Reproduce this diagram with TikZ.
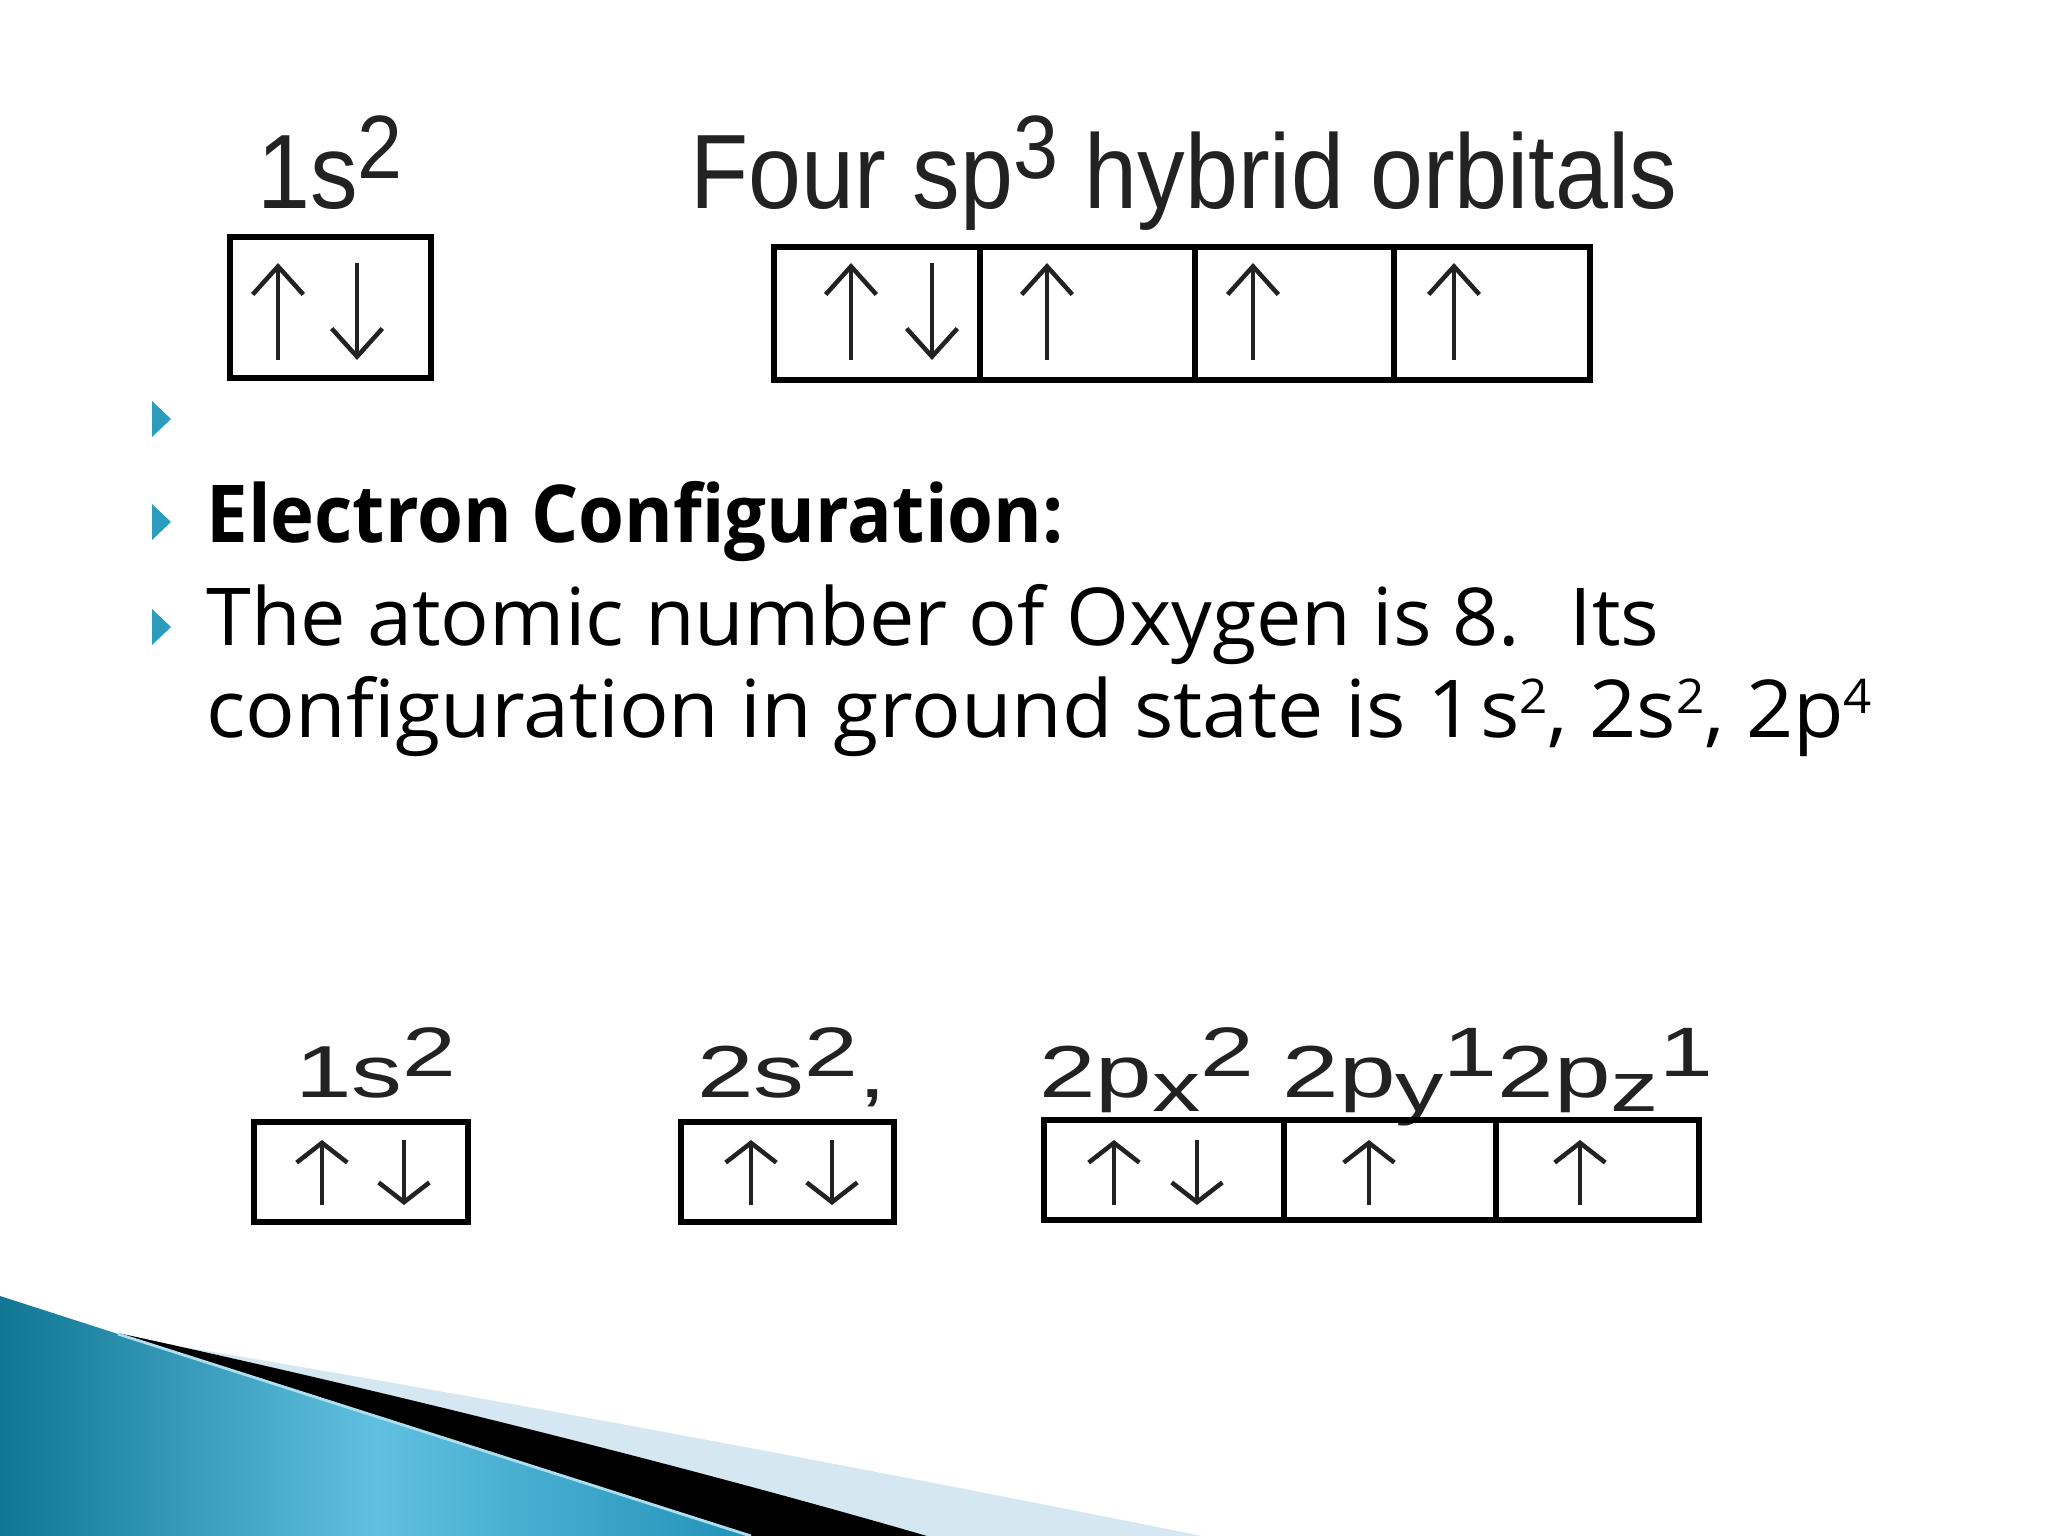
\documentclass[tikz,border=0pt]{standalone}
\usepackage{fontspec}
\usepackage{graphicx}
\usetikzlibrary{arrows.meta}
\setmainfont{Open Sans}
\newfontfamily\orbfont{Liberation Sans}
\definecolor{bullet}{RGB}{42,157,190}
\definecolor{tealdark}{RGB}{16,118,148}
\definecolor{teallight}{RGB}{96,192,224}
\definecolor{tealmid}{RGB}{34,146,184}
\definecolor{paleblue}{RGB}{213,231,240}
\definecolor{orbgray}{RGB}{34,34,34}
\newcommand{\orbup}[2][0.85]{\raisebox{0.28em}{\scalebox{#1}{#2}}}
\newcommand{\orbdn}[2][0.95]{\raisebox{-0.2em}{\scalebox{#1}{#2}}}
\newcommand{\esup}[1]{\raisebox{0.3em}{\fontsize{17}{17}\selectfont #1}}
\tikzset{
  toplbl/.style={font=\orbfont\fontsize{37.6}{40}\selectfont, text=orbgray, anchor=base, xscale=0.9, inner sep=0},
  botlbl/.style={font=\orbfont\fontsize{26.2}{28}\selectfont, text=orbgray, anchor=base, xscale=1.38, inner sep=0},
  orbbox/.style={draw=black, line width=2.1pt},
  spin/.style={draw=orbgray, line width=1.4pt, -{Straight Barb[length=10pt, width=18pt, line width=1.6pt]}},
  spinsmall/.style={draw=orbgray, line width=1.4pt, -{Straight Barb[length=7pt, width=18pt, line width=1.6pt]}},
  bodytext/.style={font=\fontsize{28.4}{32.6}\selectfont, anchor=base west, inner sep=0, xscale=1.013},
  titletext/.style={font=\bfseries\fontsize{28.4}{32.6}\selectfont, anchor=base west, inner sep=0, xscale=0.93},
}
\begin{document}
\begin{tikzpicture}[x=0.0125cm, y=-0.0125cm]
\useasboundingbox (0,0) rectangle (2048,1536);
\fill[white] (0,0) rectangle (2048,1536);

% corner wave
\fill[paleblue] (140,1340) .. controls (400,1382) and (800,1455) .. (1202,1536) -- (927,1536) .. controls (700,1470) and (400,1394) .. (118,1333) -- cycle;
\fill[black] (118,1333) .. controls (400,1394) and (700,1470) .. (927,1536) -- (751,1536) -- (118,1334) -- cycle;
\shade[left color=tealdark, right color=tealmid, middle color=teallight] (0,1296) -- (118,1334) -- (751,1536) -- (0,1536) -- cycle;
\draw[teallight!50!white, line width=1pt] (118,1334) -- (751,1536);

% bullets
\foreach \y in {419,522,627}
  \fill[bullet] (152,\y-18) -- (171,\y) -- (152,\y+18) -- cycle;

\node[titletext] (title) at (206,542) {Electron Configuration:};
\node[bodytext] (line2) at (206,645) {The atomic number of Oxygen is 8.~ Its};
\node[bodytext, xscale=1.02] (line3) at (206,737) {configuration in ground state is 1\kern2pt s\esup{2}, 2s\esup{2}, 2p\esup{4}};

% hybrid orbitals
\node[toplbl] (s1top) at (330,208) {1s\orbup{2}};
\node[toplbl] (sp3lbl) at (1184,208) {Four sp\orbup{3} hybrid orbitals};
\draw[orbbox] (230,237) rectangle (431,378);
\draw[orbbox] (774,247) rectangle (1590,380);
\foreach \x in {980,1195,1394}
  \draw[orbbox] (\x,247) -- (\x,380);
\foreach \x in {278,851,1047,1253,1454}
  \draw[spin] (\x,360) -- (\x,263);
\foreach \x in {357,932}
  \draw[spin] (\x,263) -- (\x,360);

% ground state
\node[botlbl] (s1bot) at (376,1097) {1s\orbup[0.95]{2}};
\node[botlbl] (s2bot) at (792,1097) {2s\orbup[0.95]{2},};
\node[botlbl] (plbl) at (1376,1097) {2p\orbdn{x}\orbup[0.95]{2} 2p\orbdn{y}\orbup[0.95]{1}2p\orbdn{z}\orbup[0.95]{1}};
\draw[orbbox] (254,1122) rectangle (468,1222);
\draw[orbbox] (681,1122) rectangle (894,1222);
\draw[orbbox] (1044,1120) rectangle (1699,1220);
\foreach \x in {1284,1496}
  \draw[orbbox] (\x,1120) -- (\x,1220);
\foreach \x in {322,751,1114,1369,1580}
  \draw[spinsmall] (\x,1205) -- (\x,1140);
\foreach \x in {404,832,1197}
  \draw[spinsmall] (\x,1140) -- (\x,1205);
\end{tikzpicture}
\end{document}
